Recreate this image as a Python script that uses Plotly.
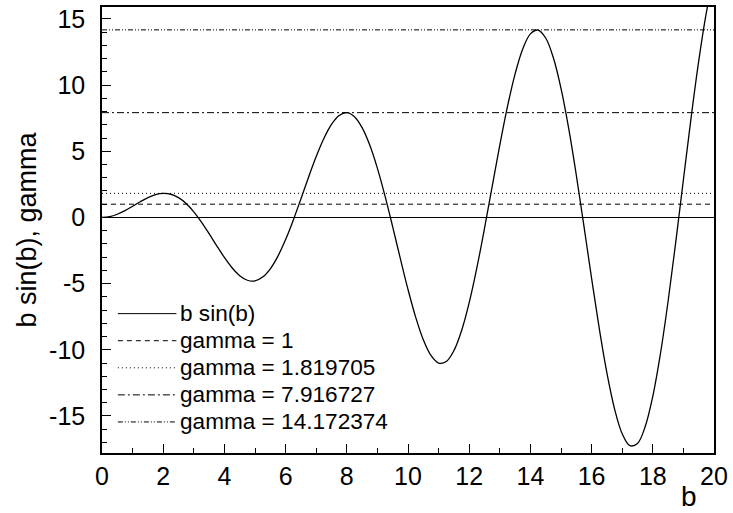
import plotly.graph_objects as go

# b values and the read curve values b*sin(b)
b_vals = [0.0, 0.25, 0.5, 0.75, 1.0, 1.25, 1.5, 1.75, 2.0, 2.25, 2.5, 2.75, 3.0, 3.25, 3.5, 3.75,
          4.0, 4.25, 4.5, 4.75, 5.0, 5.25, 5.5, 5.75, 6.0, 6.25, 6.5, 6.75, 7.0, 7.25, 7.5, 7.75,
          8.0, 8.25, 8.5, 8.75, 9.0, 9.25, 9.5, 9.75, 10.0, 10.25, 10.5, 10.75, 11.0, 11.25, 11.5,
          11.75, 12.0, 12.25, 12.5, 12.75, 13.0, 13.25, 13.5, 13.75, 14.0, 14.25, 14.5, 14.75,
          15.0, 15.25, 15.5, 15.75, 16.0, 16.25, 16.5, 16.75, 17.0, 17.25, 17.5, 17.75, 18.0,
          18.25, 18.5, 18.75, 19.0, 19.25, 19.5, 19.75, 20.0]
bsinb_vals = [0.0, 0.062, 0.240, 0.511, 0.841, 1.186, 1.496, 1.722, 1.819, 1.751, 1.496, 1.050,
              0.423, -0.352, -1.228, -2.143, -3.027, -3.804, -4.399, -4.747, -4.795, -4.509,
              -3.880, -2.923, -1.676, -0.207, 1.398, 3.038, 4.599, 5.967, 7.035, 7.708, 7.915,
              7.611, 6.787, 5.466, 3.709, 1.608, -0.714, -3.115, -5.440, -7.531, -9.237, -10.428,
              -11.000, -10.888, -10.068, -8.562, -6.439, -3.811, -0.829, 2.328, 5.462, 8.369,
              10.851, 12.732, 13.868, 14.159, 13.556, 12.066, 9.754, 6.742, 3.200, -0.662,
              -4.606, -8.383, -11.745, -14.463, -16.344, -17.243, -17.074, -15.815, -13.518,
              -10.298, -6.336, -1.864, 2.848, 7.504, 11.808, 15.476, 18.259]

gamma_vals = [1.0, 1.819705, 7.916727, 14.172374]
gamma_labels = ["gamma = 1", "gamma = 1.819705", "gamma = 7.916727", "gamma = 14.172374"]
x_span = [0, 20]

x_tick_vals = [0, 2, 4, 6, 8, 10, 12, 14, 16, 18, 20]
x_tick_text = ["0", "2", "4", "6", "8", "10", "12", "14", "16", "18", "20"]
y_tick_vals = [-15, -10, -5, 0, 5, 10, 15]
y_tick_text = ["-15", "-10", "-5", "0", "5", "10", "15"]

FONT = "Liberation Sans, Arial, sans-serif"
curve_name = "b sin(b)"
legend_names = [curve_name] + gamma_labels
legend_dashes = ["solid", "5px,4px", "1px,3px", "7px,3px,2px,3px", "5px,2px,1px,2px,1px,2px"]

# figure geometry (pixels)
W, H = 733, 513
ML, MR, MT, MB = 102, 14, 5, 60
PW, PH = W - ML - MR, H - MT - MB


def px_x(px):
    return (px - ML) / PW


def px_y(py):
    return (H - MB - py) / PH


fig = go.Figure()
fig.add_trace(go.Scatter(x=b_vals, y=bsinb_vals, mode="lines", name=curve_name,
                         line=dict(color="black", width=1.3, shape="spline")))
for g, lab, d in zip(gamma_vals, gamma_labels, legend_dashes[1:]):
    fig.add_trace(go.Scatter(x=x_span, y=[g, g], mode="lines", name=lab,
                             line=dict(color="black", width=1, dash=d)))

# hand-drawn legend (to match the compact row spacing of the reference)
row_top, row_gap = 313, 27.2
shapes = []
annotations = []
for i, (nm, d) in enumerate(zip(legend_names, legend_dashes)):
    yy = px_y(row_top + i * row_gap)
    shapes.append(dict(type="line", xref="paper", yref="paper", x0=px_x(118), x1=px_x(177),
                       y0=yy, y1=yy, line=dict(color="black", width=1, dash=d)))
    annotations.append(dict(text=nm, xref="paper", yref="paper", x=px_x(179), y=yy,
                            xanchor="left", yanchor="middle", showarrow=False,
                            font=dict(size=22.6)))

annotations.append(dict(text="b", xref="paper", yref="paper", x=px_x(704), y=px_y(497),
                        xanchor="right", yanchor="middle", showarrow=False,
                        font=dict(size=28)))

fig.update_layout(
    width=W, height=H,
    margin=dict(l=ML, r=MR, t=MT, b=MB),
    paper_bgcolor="white", plot_bgcolor="white",
    font=dict(family=FONT, size=22, color="black"),
    showlegend=False,
    shapes=shapes,
    annotations=annotations,
)
fig.update_xaxes(range=[0, 20], tickvals=x_tick_vals, ticktext=x_tick_text,
                 ticks="inside", ticklen=9, tickwidth=1.3, tickfont=dict(size=25),
                 ticklabeloverflow="allow",
                 tickcolor="black", showgrid=False, zeroline=False, showline=True,
                 linecolor="black", linewidth=1.5, mirror=True,
                 minor=dict(dtick=1, tick0=0, ticks="inside", ticklen=5, tickcolor="black",
                            tickwidth=1.3))
fig.update_yaxes(range=[-17.8, 15.9], tickvals=y_tick_vals, ticktext=y_tick_text,
                 ticks="inside", ticklen=9, tickwidth=1.3, tickfont=dict(size=25),
                 ticklabelstandoff=10, ticklabeloverflow="allow",
                 tickcolor="black", showgrid=False, zeroline=True, zerolinecolor="black",
                 zerolinewidth=1, showline=True, linecolor="black", linewidth=1.5, mirror=True,
                 title=dict(text="b sin(b), gamma", standoff=5, font=dict(size=27)),
                 minor=dict(dtick=1, tick0=0, ticks="inside", ticklen=5, tickcolor="black",
                            tickwidth=1.3))

fig.write_html("out.html", config={"displayModeBar": False},
               post_script="document.body.style.margin='0px';")
